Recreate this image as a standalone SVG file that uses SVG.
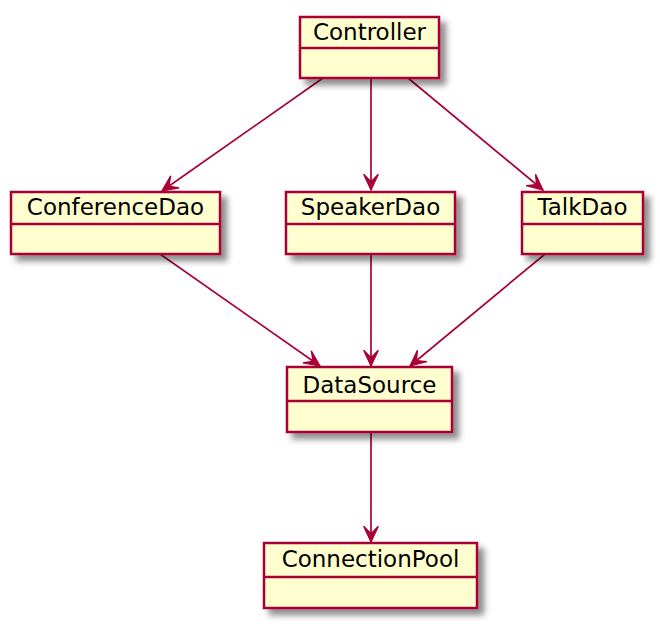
<svg xmlns="http://www.w3.org/2000/svg" width="660" height="626" viewBox="0 0 660 626">
<defs>
<filter id="sh" x="-20%" y="-20%" width="150%" height="160%">
<feGaussianBlur in="SourceAlpha" stdDeviation="3"/>
<feOffset dx="6" dy="6" result="b"/>
<feFlood flood-color="#000" flood-opacity="0.45"/>
<feComposite in2="b" operator="in"/>
<feMerge><feMergeNode/><feMergeNode in="SourceGraphic"/></feMerge>
</filter>
<marker id="ah" markerUnits="userSpaceOnUse" markerWidth="20" markerHeight="20" viewBox="-17 -9 19 18" refX="0" refY="0" orient="auto">
<path d="M0,0 L-15,-7 L-8,0 L-15,7 Z" fill="#A80036" stroke="#A80036" stroke-width="1.2"/>
</marker>
</defs>
<style>
.box{fill:#FEFECE;stroke:#A80036;stroke-width:2.5;filter:url(#sh)}
.div{stroke:#A80036;stroke-width:2.5}
.t{font-family:"DejaVu Sans",sans-serif;font-size:23px;fill:#000;text-anchor:middle}
.c{stroke:#A80036;stroke-width:1.7;fill:none;marker-end:url(#ah)}
</style>
<g id="connectors">
<line class="c" x1="323" y1="78" x2="162" y2="191"/>
<line class="c" x1="371" y1="78" x2="371" y2="190"/>
<line class="c" x1="408" y1="78" x2="543" y2="190"/>
<line class="c" x1="160" y1="254" x2="320" y2="366"/>
<line class="c" x1="371" y1="254" x2="371" y2="366"/>
<line class="c" x1="545" y1="254" x2="410" y2="366"/>
<line class="c" x1="371" y1="432" x2="371" y2="542"/>
</g>
<g id="Controller">
<rect class="box" x="300" y="17" width="139" height="61"/>
<line class="div" x1="300" y1="48" x2="439" y2="48"/>
<text class="t" x="369.5" y="40">Controller</text>
</g>
<g id="ConferenceDao">
<rect class="box" x="11" y="192" width="209" height="62"/>
<line class="div" x1="11" y1="224" x2="220" y2="224"/>
<text class="t" x="115.5" y="215">ConferenceDao</text>
</g>
<g id="SpeakerDao">
<rect class="box" x="286" y="192" width="169" height="62"/>
<line class="div" x1="286" y1="224" x2="455" y2="224"/>
<text class="t" x="370.5" y="215">SpeakerDao</text>
</g>
<g id="TalkDao">
<rect class="box" x="522" y="192" width="121" height="62"/>
<line class="div" x1="522" y1="224" x2="643" y2="224"/>
<text class="t" x="582.5" y="215">TalkDao</text>
</g>
<g id="DataSource">
<rect class="box" x="287" y="367" width="165" height="65"/>
<line class="div" x1="287" y1="401" x2="452" y2="401"/>
<text class="t" x="369.5" y="393">DataSource</text>
</g>
<g id="ConnectionPool">
<rect class="box" x="264" y="543" width="213" height="65"/>
<line class="div" x1="264" y1="577" x2="477" y2="577"/>
<text class="t" x="370.5" y="567">ConnectionPool</text>
</g>
</svg>
